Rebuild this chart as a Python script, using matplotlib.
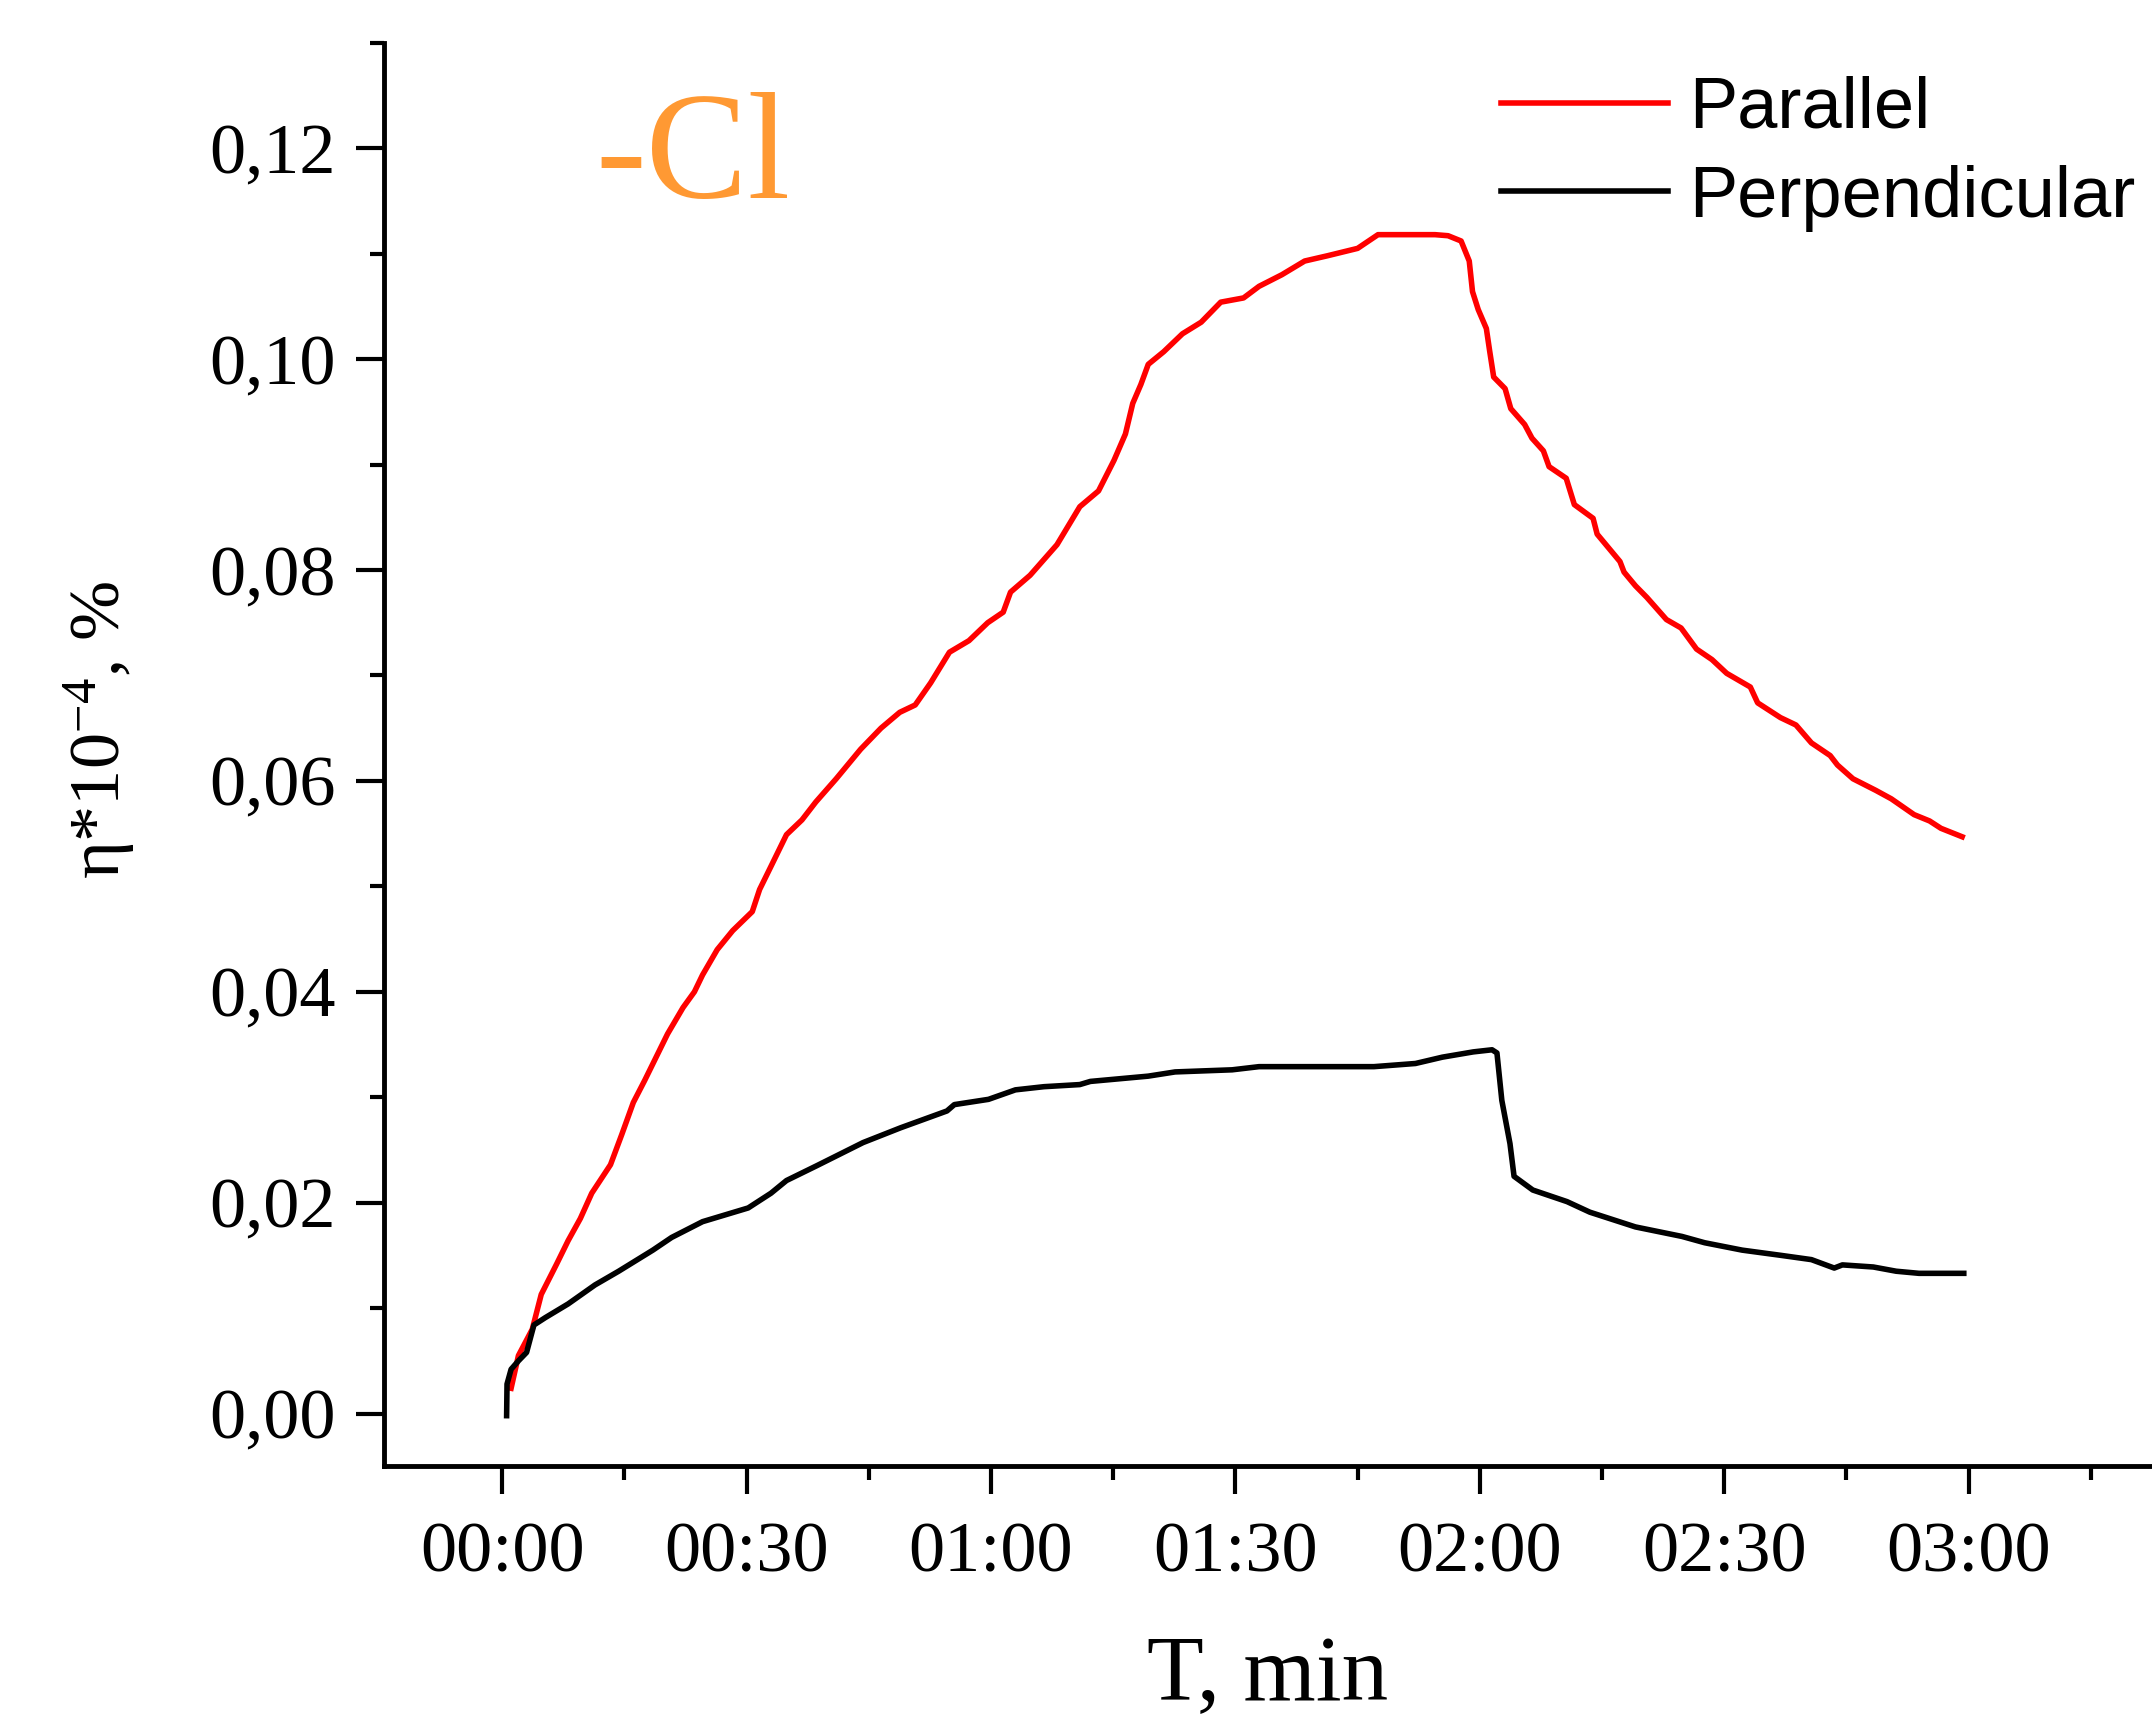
import matplotlib
matplotlib.use("Agg")
import matplotlib.pyplot as plt
from matplotlib.ticker import MultipleLocator, FuncFormatter

# Time in minutes, eta*10^-4 in %
t_par = [1.1, 2.0, 3.7, 4.8, 6.7, 8.1, 9.6, 11.0, 13.3, 14.7, 16.1, 17.5, 18.9, 20.3,
         22.2, 23.6, 24.6, 26.4, 28.3, 30.7, 31.6, 33.0, 34.9, 36.8, 38.5, 41.0, 44.0,
         46.5, 48.8, 50.7, 52.6, 54.9, 57.3, 59.6, 61.5, 62.4, 64.8, 68.1, 70.9, 73.2,
         75.1, 76.5, 77.4, 78.4, 79.3, 81.2, 83.5, 85.8, 88.2, 91.0, 92.9, 95.7, 98.5,
         101.3, 105.0, 107.5, 114.5, 116.1, 117.7, 118.7, 119.1, 119.8, 120.8, 121.2,
         121.7, 123.1, 123.8, 125.5, 126.4, 127.8, 128.5, 130.6, 131.6, 133.9, 134.4,
         135.8, 137.2, 137.7, 139.1, 140.5, 142.9, 144.7, 146.6, 148.5, 150.3, 153.2,
         154.1, 156.9, 158.8, 160.7, 163.0, 163.9, 165.8, 168.6, 170.5, 173.3, 175.2,
         176.6, 179.2]
v_par = [0.0024, 0.0055, 0.0080, 0.0113, 0.0142, 0.0164, 0.0185, 0.0209, 0.0236, 0.0265,
         0.0295, 0.0316, 0.0338, 0.0360, 0.0385, 0.0400, 0.0416, 0.0440, 0.0458, 0.0476,
         0.0497, 0.0519, 0.0549, 0.0563, 0.0580, 0.0602, 0.0630, 0.0650, 0.0665, 0.0672,
         0.0693, 0.0722, 0.0733, 0.0750, 0.0760, 0.0779, 0.0795, 0.0824, 0.0860, 0.0875,
         0.0904, 0.0929, 0.0958, 0.0976, 0.0995, 0.1007, 0.1024, 0.1035, 0.1054, 0.1058,
         0.1069, 0.1080, 0.1093, 0.1098, 0.1105, 0.1118, 0.1118, 0.1117, 0.1112, 0.1093,
         0.1064, 0.1047, 0.1029, 0.1008, 0.0983, 0.0972, 0.0953, 0.0938, 0.0925, 0.0913,
         0.0898, 0.0887, 0.0862, 0.0849, 0.0834, 0.0821, 0.0808, 0.0798, 0.0785, 0.0774,
         0.0753, 0.0745, 0.0725, 0.0715, 0.0702, 0.0689, 0.0674, 0.0660, 0.0653, 0.0636,
         0.0624, 0.0615, 0.0602, 0.0591, 0.0583, 0.0568, 0.0562, 0.0555, 0.0547]

t_perp = [0.55, 0.6, 1.1, 2.0, 3.0, 3.9, 5.3, 8.1, 11.4, 14.3, 18.5, 20.8, 24.6, 30.2,
          33.0, 34.9, 38.6, 44.3, 48.9, 54.6, 55.5, 59.7, 63.0, 66.5, 70.9, 72.2, 79.3,
          82.6, 89.6, 92.9, 107.0, 112.1, 115.4, 119.2, 121.5, 122.1, 122.7, 123.7, 124.2,
          126.5, 130.7, 133.5, 139.1, 144.8, 147.6, 152.2, 157.0, 160.7, 163.5, 164.5,
          168.3, 171.1, 173.9, 179.4]
v_perp = [-0.0002, 0.0028, 0.0042, 0.0050, 0.0058, 0.0084, 0.0091, 0.0104, 0.0122, 0.0135,
          0.0155, 0.0167, 0.0182, 0.0195, 0.0209, 0.0221, 0.0235, 0.0257, 0.0271, 0.0287,
          0.0293, 0.0298, 0.0307, 0.0310, 0.0312, 0.0315, 0.0320, 0.0324, 0.0326, 0.0329,
          0.0329, 0.0332, 0.0338, 0.0343, 0.0345, 0.0342, 0.0297, 0.0256, 0.0225, 0.0212,
          0.0201, 0.0191, 0.0177, 0.0168, 0.0162, 0.0155, 0.0150, 0.0146, 0.0138, 0.0141,
          0.0139, 0.0135, 0.0133, 0.0133]

W, H = 2152, 1722
plt.rcParams['font.family'] = ['Liberation Serif', 'DejaVu Serif']
plt.rcParams['mathtext.default'] = 'regular'

fig = plt.figure(figsize=(W / 100, H / 100), dpi=100)
# axes placed in pixels: left spine x=384, bottom spine y=1466, top y=43
ax = fig.add_axes([384 / W, 1 - 1466.3 / H, (W - 384) / W, (1466.3 - 42.75) / H])

ax.plot(t_par, v_par, color='#FF0000', lw=4, label='Parallel')
ax.plot(t_perp, v_perp, color='black', lw=4, label='Perpendicular')

ax.set_xlim(-14.5, 202.5)
ax.set_ylim(-0.005, 0.13)

ax.spines['top'].set_visible(False)
ax.spines['right'].set_visible(False)
for s in ['left', 'bottom']:
    ax.spines[s].set_linewidth(3.5)

ax.xaxis.set_major_locator(MultipleLocator(30))
ax.xaxis.set_minor_locator(MultipleLocator(15))
ax.yaxis.set_major_locator(MultipleLocator(0.02))
ax.yaxis.set_minor_locator(MultipleLocator(0.01))
ax.xaxis.set_major_formatter(FuncFormatter(lambda v, p: f'{int(round(v)) // 60:02d}:{int(round(v)) % 60:02d}'))
ax.yaxis.set_major_formatter(FuncFormatter(lambda v, p: f'{v:.2f}'.replace('.', ',').replace('-', '')))

ax.tick_params(axis='both', which='major', direction='out', length=20, width=3, labelsize=52)
ax.tick_params(axis='both', which='minor', direction='out', length=10, width=3)
ax.tick_params(axis='x', which='major', pad=20)
ax.tick_params(axis='y', which='major', pad=15)

ax.set_xlabel('T, min', fontsize=67, va='baseline')
ax.xaxis.set_label_coords(0.5, -(1700 - 1466.3) / 1423.6)
ax.set_ylabel('η*10$^{-4}$, %', fontsize=52, va='baseline')
ax.yaxis.set_label_coords((120 - 384) / 1768, (1466.3 - 730) / 1423.6)

fig.text(595 / W, 1 - 198 / H, '-Cl', fontsize=110, color='#FF9933', ha='left', va='baseline')

leg = ax.legend(loc='upper left', bbox_to_anchor=(1501 / W, 1 - 76 / H), bbox_transform=fig.transFigure,
                frameon=False, borderpad=0, borderaxespad=0, handlelength=2.31, handletextpad=0.3,
                labelspacing=0.3, prop={'family': 'Liberation Sans', 'size': 52})
for line in leg.get_lines():
    line.set_linewidth(4)

fig.savefig('out.png', dpi=100)
